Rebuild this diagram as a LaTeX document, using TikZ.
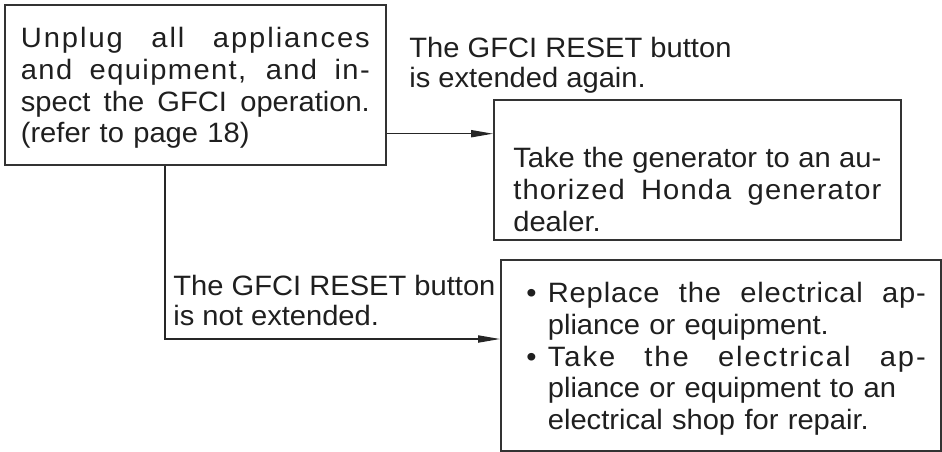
\documentclass[tikz,border=0pt]{standalone}
\usepackage{fontspec}
\setmainfont{Liberation Sans}[FakeStretch=1.04]
\usetikzlibrary{arrows.meta}

% one justified line: letters spread by [#1], spaces stretched to the full width
\newcommand\fullline[2][0]{\makebox[\hsize][s]{%
  \addfontfeature{LetterSpace=#1}\spaceskip=0pt\xspaceskip=0pt #2}}
\newcommand\bulletline[2][0]{\hspace*{5.3pt}\makebox[10.7pt][l]{\textbullet}%
  \makebox[189pt][s]{\addfontfeature{LetterSpace=#1}\spaceskip=0pt\xspaceskip=0pt #2}}
\newcommand\hangline[1]{\hspace*{16pt}#1}
\newcommand\topstrut[1]{\rule{0pt}{#1}}

\tikzset{
  stepbox/.style={draw=black!80, line width=0.85pt, inner xsep=0pt, inner ysep=0pt,
    align=left, anchor=north west},
  answer/.style={inner sep=0pt, align=left, anchor=north west,
    font=\fontsize{14pt}{15pt}\selectfont},
  arr/.style={draw=black!85, line width=0.65pt, -{Triangle[length=11pt,width=3.6pt]}}
}

\begin{document}
\begin{tikzpicture}[x=0.5pt, y=-0.5pt, text=black!88,
    font=\fontsize{14pt}{15.8pt}\selectfont]
  \useasboundingbox (0,0) rectangle (942,451);
  % boxes
  \node[stepbox, minimum width=190.5pt, minimum height=80pt, text width=174.5pt]
    (check) at (4,4) {%
    \topstrut{13.4pt}\fullline[7]{Unplug all appliances}\\
    \fullline[5]{and equipment, and in-}\\
    \fullline{spect the GFCI operation.}\\
    (refer to page 18)};
  \node[stepbox, minimum width=203.5pt, minimum height=70pt, text width=184pt]
    (dealer) at (493,99) {%
    \topstrut{29.8pt}\fullline{Take the generator to an au-}\\
    \fullline[4]{thorized Honda generator}\\
    dealer.};
  \node[stepbox, minimum width=220pt, minimum height=95.5pt, text width=205pt]
    (repair) at (500,259) {%
    \topstrut{13.6pt}\bulletline[3]{Replace the electrical ap-}\\
    \hangline{pliance or equipment.}\\
    \bulletline[7]{Take the electrical ap-}\\
    \hangline{pliance or equipment to an}\\
    \hangline{electrical shop for repair.}};
  % branch labels
  \node[answer] (again) at (409,36.5) {The GFCI RESET button\\is extended again.};
  \node[answer] (notext) at (173,274.5) {The GFCI RESET button\\is not extended.};
  % arrows
  \draw[arr] ([yshift=16pt]check.south east) -- ([yshift=16pt]check.south east -| dealer.west);
  \draw[arr] ([xshift=80.5pt]check.south west) |- ([yshift=-40pt]repair.north west);
\end{tikzpicture}
\end{document}
